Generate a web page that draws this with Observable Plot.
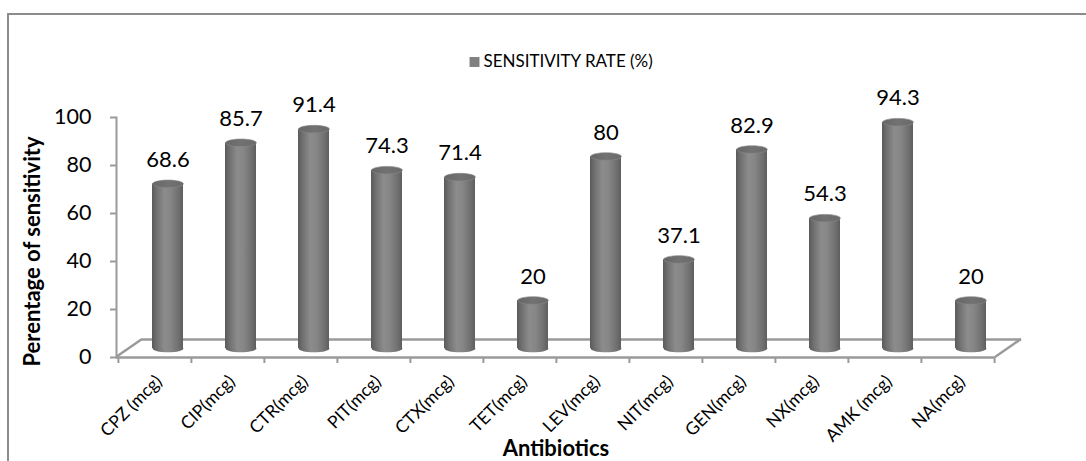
<!DOCTYPE html>
<html>
<head>
<meta charset="utf-8">
<script src="https://cdn.jsdelivr.net/npm/d3@7"></script>
<script src="https://cdn.jsdelivr.net/npm/@observablehq/plot@0.6"></script>
<style>
  html, body { margin: 0; padding: 0; background: #fff; }
  #chart svg { display: block; }
</style>
</head>
<body>
<div id="chart"></div>
<script>
const categories = ["CPZ (mcg)", "CIP(mcg)", "CTR(mcg)", "PIT(mcg)", "CTX(mcg)", "TET(mcg)", "LEV(mcg)", "NIT(mcg)", "GEN(mcg)", "NX(mcg)", "AMK (mcg)", "NA(mcg)"];
const values = [68.6, 85.7, 91.4, 74.3, 71.4, 20, 80, 37.1, 82.9, 54.3, 94.3, 20];
const yTicks = [0, 20, 40, 60, 80, 100];
const seriesName = "SENSITIVITY RATE (%)";
const yTitle = "Perentage of sensitivity";
const xTitle = "Antibiotics";

const data = categories.map((c, i) => ({cat: c, val: values[i]}));

// 3D depth offset of the cylinders
const DX = 13, DY = -9;
const RX = 15.4, RY = 3.8;
const ellipse = {
  draw(ctx) {
    const k = 0.5523;
    ctx.moveTo(-RX, 0);
    ctx.bezierCurveTo(-RX, -RY * k, -RX * k, -RY, 0, -RY);
    ctx.bezierCurveTo(RX * k, -RY, RX, -RY * k, RX, 0);
    ctx.bezierCurveTo(RX, RY * k, RX * k, RY, 0, RY);
    ctx.bezierCurveTo(-RX * k, RY, -RX, RY * k, -RX, 0);
    ctx.closePath();
  }
};

const font = "Lato, 'Open Sans', sans-serif";

const chart = Plot.plot({
  width: 1086,
  height: 461,
  marginLeft: 116,
  marginRight: 91,
  marginTop: 117,
  marginBottom: 104,
  style: {fontFamily: font, background: "#fff", color: "#000", overflow: "visible"},
  x: {domain: categories, paddingInner: 0.58, paddingOuter: 0.29, axis: null},
  y: {domain: [0, 100], axis: null},
  marks: [
    // floor (front and back edges)
    Plot.ruleY([0], {stroke: "#9a9a9a", strokeWidth: 2.5, dx: 26, dy: -18}),
    Plot.ruleY([0], {stroke: "#9a9a9a", strokeWidth: 2.5}),
    // y axis line
    Plot.frame({anchor: "left", stroke: "#9a9a9a", strokeWidth: 2}),
    Plot.axisY({ticks: yTicks, tickSize: 6, tickPadding: 19, fontSize: 21.5, stroke: "#9a9a9a", strokeWidth: 2, fill: "#000", label: null}),
    // x tick marks at category boundaries
    Plot.axisX({tickSize: 6, tickFormat: () => "", dx: -36.6, stroke: "#9a9a9a", strokeWidth: 2, label: null}),
    Plot.axisX({ticks: [categories[categories.length - 1]], tickSize: 6, tickFormat: () => "", dx: 36.6, stroke: "#9a9a9a", strokeWidth: 2, label: null}),
    // x tick labels
    Plot.axisX({tickSize: 0, tickPadding: 21, tickRotate: -45, dx: 4, fontSize: 17.5, fill: "#000", label: null}),
    // cylinders
    Plot.dot(data, {x: "cat", y: 0, dx: DX, dy: DY, symbol: ellipse, fill: "url(#cylBody)", stroke: "none"}),
    Plot.barY(data, {x: "cat", y: "val", dx: DX, dy: DY, fill: "url(#cylBody)"}),
    Plot.dot(data, {x: "cat", y: "val", dx: DX, dy: DY, symbol: ellipse, fill: "url(#cylTop)", stroke: "#8a8a8a", strokeWidth: 0.6}),
    // value labels
    Plot.text(data, {x: "cat", y: "val", text: d => String(d.val), dx: DX, dy: -33, fontSize: 22, fill: "#000"}),
    // legend
    Plot.dot([seriesName], {frameAnchor: "top-left", dx: 358, dy: -55.5, symbol: "square", r: 5.6, fill: "#808080", stroke: "none"}),
    Plot.text([seriesName], {frameAnchor: "top-left", dx: 367, dy: -56, text: d => d, textAnchor: "start", lineAnchor: "middle", fontSize: 17, fill: "#000"}),
    // axis titles
    Plot.text([yTitle], {frameAnchor: "left", dx: -84, dy: 14, rotate: -90, text: d => d, textAnchor: "middle", lineAnchor: "middle", fontSize: 22, fontWeight: "bold", fill: "#000"}),
    Plot.text([xTitle], {frameAnchor: "bottom", dy: 91, text: d => d, textAnchor: "middle", lineAnchor: "middle", fontSize: 22, fontWeight: "bold", fill: "#000"})
  ]
});

document.getElementById("chart").appendChild(chart);

// gradients for cylinders
const svg = d3.select(chart);
const defs = svg.insert("defs", ":first-child");
const g1 = defs.append("linearGradient").attr("id", "cylBody").attr("x1", 0).attr("x2", 1).attr("y1", 0).attr("y2", 0);
[[0, "#5a5a5a"], [0.15, "#707070"], [0.4, "#8c8c8c"], [0.6, "#868686"], [0.85, "#707070"], [1, "#5e5e5e"]]
  .forEach(([o, c]) => g1.append("stop").attr("offset", o).attr("stop-color", c));
const g2 = defs.append("linearGradient").attr("id", "cylTop").attr("x1", 0).attr("x2", 1).attr("y1", 0).attr("y2", 0);
[[0, "#666"], [0.5, "#727272"], [1, "#6a6a6a"]]
  .forEach(([o, c]) => g2.append("stop").attr("offset", o).attr("stop-color", c));

// floor side edges and outer frame, placed from the chart's scales
const xs = chart.scale("x"), ys = chart.scale("y");
const [x0, x1] = xs.range;
const yb = ys.apply(0);
const deco = svg.insert("g", "defs + *").attr("fill", "none").attr("stroke", "#9a9a9a").attr("stroke-width", 2.5);
deco.append("path").attr("d", `M${x0},${yb}L${x0 + 26},${yb - 18}`);
deco.append("path").attr("d", `M${x1},${yb}L${x1 + 26},${yb - 18}`);
svg.append("path").attr("d", "M8,461V14H1086").attr("fill", "none").attr("stroke", "#8c8c8c").attr("stroke-width", 2);
</script>
</body>
</html>
